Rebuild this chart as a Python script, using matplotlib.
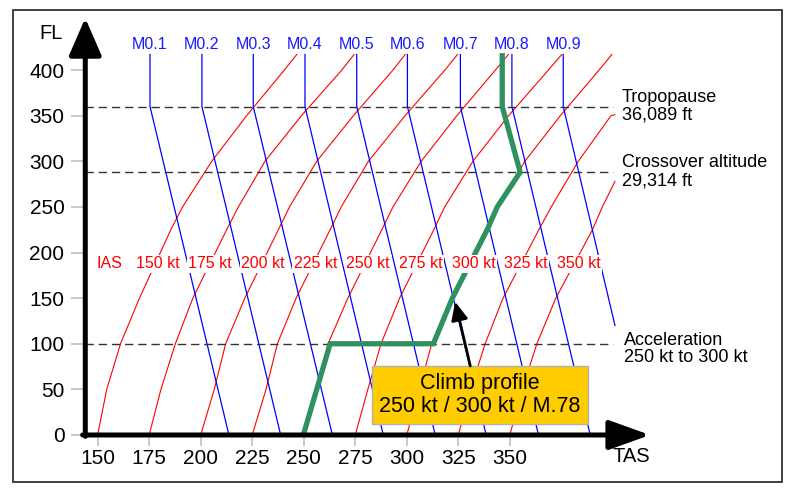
import numpy as np
import matplotlib
matplotlib.use('Agg')
import matplotlib.pyplot as plt
from matplotlib.patches import Rectangle

plt.rcParams['font.family'] = ['Liberation Sans', 'DejaVu Sans']

# IAS curves (TAS in kt read at each flight level)
ias_kt = [150, 175, 200, 225, 250, 275, 300, 325, 350]
ias_fl = [0, 50, 100, 150, 225, 250, 300, 350, 400, 417]
ias_tas = [
    [150, 154.4, 161.1, 170.3, 185.5, 191.2, 205.4, 222.3, 240.6, 246.6],
    [175, 180.7, 187.7, 196.2, 212.6, 218.3, 231.2, 248.9, 268.5, 274.4],
    [200, 206.6, 212.1, 221.4, 237.7, 243.1, 256.3, 274.1, 293.3, 299.2],
    [225, 231.7, 237.2, 246.3, 262.8, 268.2, 281.4, 299.2, 318.5, 324.6],
    [250, 256.8, 261.8, 271.4, 287.9, 293.3, 307.0, 324.3, 343.0, 349.3],
    [275, 281.1, 287.5, 296.5, 313.1, 318.4, 332.1, 349.4, 368.7, 375.2],
    [300, 306.0, 312.1, 322.1, 339.0, 343.9, 357.3, 374.5, 393.3, 399.5],
    [325, 331.0, 338.0, 346.7, 364.1, 370.1, 383.2, 399.1, np.nan, np.nan],
    [350, 356.0, 363.1, 372.3, 390.1, 394.9, np.nan, np.nan, np.nan, np.nan],
]
# where the clipped curves leave the chart at its right edge
edge_tas = 401
ias_edge_fl = [np.nan] * 7 + [351, 278]

# Mach lines
mach_labels = ['M0.1', 'M0.2', 'M0.3', 'M0.4', 'M0.5', 'M0.6', 'M0.7', 'M0.8', 'M0.9']
mach_tas_trop = [175.4, 200.6, 225.5, 250.6, 275.7, 300.3, 326.0, 351.0, 375.9]
mach_tas_low = [213.7, 238.8, 263.9, 288.6, 313.8, 338.5, 363.9, 389.0, 401.0]
mach_fl_low = [0, 0, 0, 0, 0, 0, 0, 0, 120]
trop_fl = 360
top_fl = 417

# climb profile 250 kt / 300 kt / M.78
climb_tas = [249.8, 262.8, 312.9, 322.1, 339.0, 343.9, 355.0, 346.3, 346.3]
climb_fl = [0, 100, 100, 150, 225, 250, 288, 360, 418.5]

ref_fl = [360, 288, 100]
ref_line1 = ['Tropopause', 'Crossover altitude', 'Acceleration']
ref_line2 = ['36,089 ft', '29,314 ft', '250 kt to 300 kt']

fig = plt.figure(figsize=(8, 4.96), dpi=100)
ax = fig.add_axes([0.1066, 0.123, 0.7059, 0.8407])
ax.set_xlim(144, 418)
ax.set_ylim(0, 457)
for s in ax.spines.values():
    s.set_visible(False)

# outer frame
fig.patches.append(Rectangle((0.01625, 0.0282), 0.961, 0.9516, transform=fig.transFigure,
                             fill=False, ec='#333333', lw=1.3))

# IAS curves
for i, ias in enumerate(ias_kt):
    tas = list(ias_tas[i])
    fl = list(ias_fl)
    if not np.isnan(ias_edge_fl[i]):
        n = int(np.sum(~np.isnan(tas)))
        tas = tas[:n] + [edge_tas]
        fl = fl[:n] + [ias_edge_fl[i]]
    ax.plot(tas, fl, color='#ff0000', lw=0.8, zorder=2)

# Mach lines
for i, lab in enumerate(mach_labels):
    ax.plot([mach_tas_trop[i], mach_tas_trop[i], mach_tas_low[i]],
            [top_fl, trop_fl, mach_fl_low[i]], color='#0000ff', lw=0.9, zorder=2)
    ax.text(mach_tas_trop[i], 427.5, lab, color='#1a1aff', fontsize=11.5,
            ha='center', va='center')

# reference altitudes
for j, fl in enumerate(ref_fl):
    ax.plot([144, 400], [fl, fl], color='#333333', lw=1, dashes=(6, 3.5), zorder=2)
    if fl == 100:
        x0, y1, y2 = 405.5, 104.1, 84.7
    else:
        x0, y1, y2 = 404.4, fl + 10.4, fl - 9.3
    ax.text(x0, y1, ref_line1[j], fontsize=13, ha='left', va='center', clip_on=False)
    ax.text(x0, y2, ref_line2[j], fontsize=13, ha='left', va='center', clip_on=False)

# climb profile
ax.plot(climb_tas, climb_fl, color='#2f9160', lw=3.8, zorder=4,
        solid_joinstyle='miter', solid_capstyle='butt')

# IAS labels (on top of the lines)
ax.text(155.5, 187.5, 'IAS', color='#ff0000', fontsize=11.5, ha='center', va='center',
        bbox=dict(fc='white', ec='none', pad=1), zorder=4.5)
for i, ias in enumerate(ias_kt):
    ax.text(179.1 + 25.55 * i, 187.5, '%d kt' % ias, color='#ff0000', fontsize=11.5,
            ha='center', va='center', bbox=dict(fc='white', ec='none', pad=1), zorder=4.5)

# label box and arrow
ax.add_patch(Rectangle((283, 12), 105, 63.7, fc='#ffcc00', ec='#b0b0b0', lw=1, zorder=5))
ax.text(335.5, 55.9, 'Climb profile', fontsize=15.5, ha='center', va='center', zorder=6)
ax.text(335.5, 31, '250 kt / 300 kt / M.78', fontsize=15.5, ha='center', va='center', zorder=6)
ax.annotate('', xy=(323.5, 146), xytext=(330.8, 75.7),
            arrowprops=dict(arrowstyle='-|>,head_length=0.55,head_width=0.25',
                            mutation_scale=20, lw=2, color='black',
                            shrinkA=0, shrinkB=0), zorder=6)

# axes with arrows
ax.annotate('', xy=(144, 457), xytext=(144, -1.5), annotation_clip=False,
            arrowprops=dict(arrowstyle='-|>,head_length=1.15,head_width=0.5',
                            mutation_scale=20, lw=3.6, color='black',
                            shrinkA=0, shrinkB=0), zorder=7)
ax.annotate('', xy=(418, 0), xytext=(142.7, 0), annotation_clip=False,
            arrowprops=dict(arrowstyle='-|>,head_length=1.25,head_width=0.45',
                            mutation_scale=20, lw=3.6, color='black',
                            shrinkA=0, shrinkB=0), zorder=7)
ax.text(127.3, 440.5, 'FL', fontsize=14.5, ha='center', va='center', clip_on=False)
ax.text(408.7, -23.8, 'TAS', fontsize=14.5, ha='center', va='center', clip_on=False)

ax.set_xticks(np.arange(150, 351, 25))
ax.set_yticks(np.arange(0, 401, 50))
ax.tick_params(axis='x', length=8, width=1.2, color='#c0c0c0', labelsize=15, pad=2)
ax.tick_params(axis='y', length=10, width=1.2, color='#c0c0c0', labelsize=15, pad=5)

fig.savefig('out.png', dpi=100)
